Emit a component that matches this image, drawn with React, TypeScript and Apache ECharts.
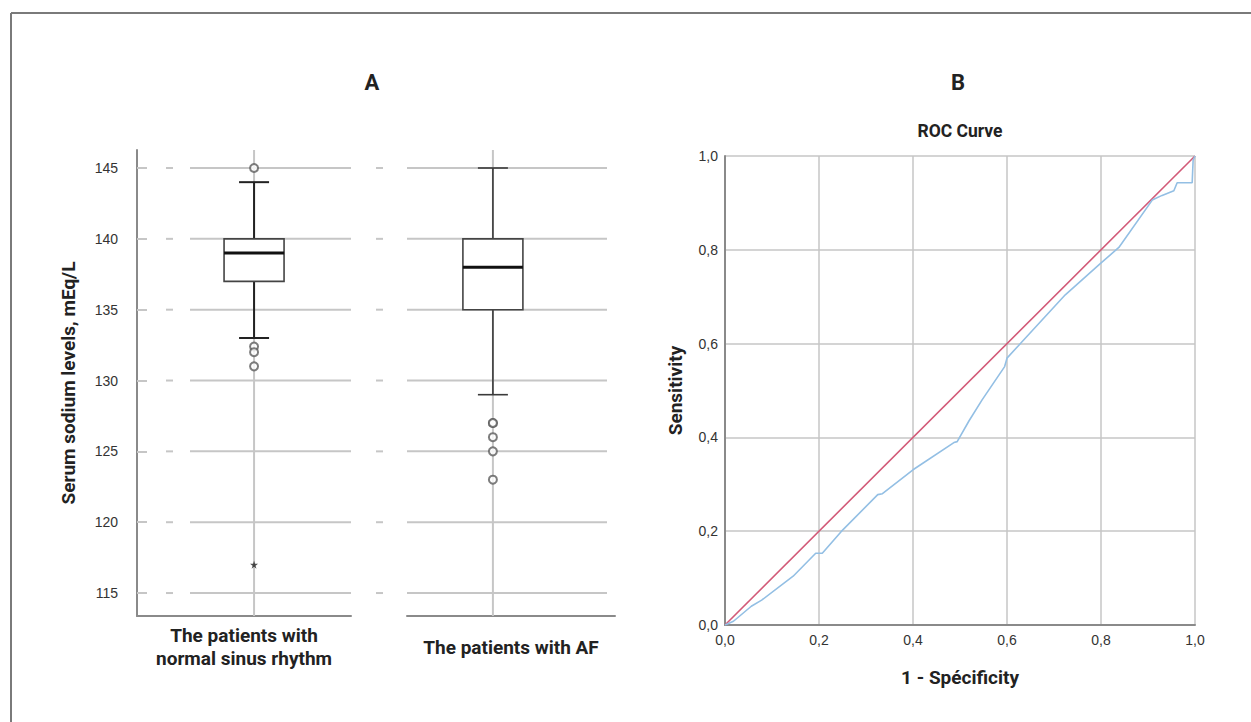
import { useEffect, useRef } from "react";
import * as echarts from "echarts";

// ---------- data ----------
const groupNames = ["The patients with\nnormal sinus rhythm", "The patients with AF"];
// [min, Q1, median, Q3, max]
const boxNSR = [133, 137, 139, 140, 144];
const boxAF = [129, 135, 138, 140, 145];
const outliersNSR = [145, 132.4, 132, 131];
const extremesNSR = [117];
const outliersAF = [127, 127, 126, 125, 123];
const sodiumTicks = [115, 120, 125, 130, 135, 140, 145];

const rocFpr = [0, 0.018, 0.056, 0.078, 0.145, 0.193, 0.207, 0.247, 0.325, 0.335, 0.4, 0.487, 0.494, 0.519, 0.547, 0.595, 0.6, 0.632, 0.724, 0.799, 0.838, 0.909, 0.93, 0.955, 0.962, 0.994, 0.996, 1];
const rocTpr = [0, 0.008, 0.04, 0.053, 0.104, 0.153, 0.153, 0.199, 0.278, 0.28, 0.331, 0.389, 0.391, 0.435, 0.48, 0.551, 0.569, 0.604, 0.704, 0.771, 0.805, 0.906, 0.916, 0.926, 0.943, 0.943, 0.991, 1];
const refLine = [[0, 0], [1, 1]];

// ---------- styles ----------
const NARROW = '"Liberation Sans Narrow", "Roboto", sans-serif';
const REG = '"Liberation Sans", Arial, sans-serif';
const GRID_C = "#c6c6c6";
const AXIS_C = "#8a8a8a";
const STAR = "path://M50,0 L61,35 L98,35 L68,57 L79,91 L50,70 L21,91 L32,57 L2,35 L39,35 Z";

const Y_MIN = 113.38;
const Y_MAX = 146.27;

function gridRenderer(dash: [number, number], main: [number, number]) {
  return (params: any, api: any) => {
    const cs = params.coordSys;
    const y = api.coord([1, api.value(1)])[1];
    const st = { stroke: GRID_C, lineWidth: 2 };
    return {
      type: "group",
      children: [
        { type: "line", shape: { x1: cs.x + dash[0], y1: y, x2: cs.x + dash[1], y2: y }, style: st },
        { type: "line", shape: { x1: cs.x + main[0], y1: y, x2: cs.x + cs.width + main[1], y2: y }, style: st },
      ],
    };
  };
}

function vlineRenderer(params: any, api: any) {
  const cs = params.coordSys;
  const x = api.coord([api.value(0), api.value(1)])[0];
  return {
    type: "line",
    shape: { x1: x, y1: cs.y, x2: x, y2: cs.y + cs.height },
    style: { stroke: GRID_C, lineWidth: 2 },
  };
}

function boxRenderer(whiskerColor: string, whiskerWidth: number) {
  return (params: any, api: any) => {
    const xv = api.value(0);
    const pMin = api.coord([xv, api.value(1)]);
    const pQ1 = api.coord([xv, api.value(2)]);
    const pMed = api.coord([xv, api.value(3)]);
    const pQ3 = api.coord([xv, api.value(4)]);
    const pMax = api.coord([xv, api.value(5)]);
    const cx = pMed[0];
    const hw = 30;
    const cap = 15;
    const ws = { stroke: whiskerColor, lineWidth: whiskerWidth };
    return {
      type: "group",
      children: [
        { type: "line", shape: { x1: cx, y1: pQ3[1], x2: cx, y2: pMax[1] }, style: ws },
        { type: "line", shape: { x1: cx, y1: pQ1[1], x2: cx, y2: pMin[1] }, style: ws },
        { type: "line", shape: { x1: cx - cap, y1: pMax[1], x2: cx + cap, y2: pMax[1] }, style: ws },
        { type: "line", shape: { x1: cx - cap, y1: pMin[1], x2: cx + cap, y2: pMin[1] }, style: ws },
        {
          type: "rect",
          shape: { x: cx - hw, y: pQ3[1], width: hw * 2, height: pQ1[1] - pQ3[1] },
          style: { fill: "#fff", stroke: "#444", lineWidth: 1.6 },
        },
        { type: "line", shape: { x1: cx - hw, y1: pMed[1], x2: cx + hw, y2: pMed[1] }, style: { stroke: "#111", lineWidth: 3 } },
      ],
    };
  };
}

const commaFmt = (v: number) => v.toFixed(1).replace(".", ",");

export default function App() {
  const ref = useRef<HTMLDivElement>(null);
  useEffect(() => {
    if (!ref.current) return;
    const chart = echarts.init(ref.current, null, { renderer: "svg" });
    const nameStyle = { fontFamily: NARROW, fontWeight: "bold" as const, fontSize: 19, color: "#222" };
    const tickStyle = { fontFamily: REG, fontSize: 14, color: "#333" };
    const option: any = {
      animation: false,
      backgroundColor: "#fff",
      grid: [
        { left: 137, top: 150, width: 214, height: 466 },
        { left: 407, top: 150, width: 208, height: 466 },
        { left: 725, top: 156, width: 470, height: 469 },
      ],
      xAxis: [
        {
          type: "value", gridIndex: 0, min: 0.453, max: 1.453,
          axisLine: { show: true, lineStyle: { color: AXIS_C, width: 2 } },
          axisTick: { show: false }, axisLabel: { show: false }, splitLine: { show: false },
          name: groupNames[0], nameLocation: "middle", nameGap: 8,
          nameTextStyle: { ...nameStyle, lineHeight: 23 },
        },
        {
          type: "value", gridIndex: 1, min: 0.587, max: 1.587,
          axisLine: { show: true, lineStyle: { color: AXIS_C, width: 2 } },
          axisTick: { show: false }, axisLabel: { show: false }, splitLine: { show: false },
          name: groupNames[1], nameLocation: "middle", nameGap: 20,
          nameTextStyle: { ...nameStyle, lineHeight: 23 },
        },
        {
          type: "value", gridIndex: 2, min: 0, max: 1, interval: 0.2,
          axisLine: { show: true, lineStyle: { color: AXIS_C, width: 2 } },
          axisTick: { show: false },
          axisLabel: { formatter: commaFmt, ...tickStyle, margin: 8 },
          splitLine: { show: true, lineStyle: { color: GRID_C, width: 1.5 } },
          name: "1 - Spécificity", nameLocation: "middle", nameGap: 43, nameTextStyle: nameStyle,
        },
      ],
      yAxis: [
        {
          type: "value", gridIndex: 0, min: Y_MIN, max: Y_MAX,
          axisLine: { show: true, lineStyle: { color: AXIS_C, width: 2 } },
          axisTick: { show: true, inside: true, length: 10, customValues: sodiumTicks, lineStyle: { color: GRID_C, width: 2 } },
          axisLabel: { customValues: sodiumTicks, ...tickStyle, margin: 19 },
          splitLine: { show: false },
          name: "Serum sodium levels, mEq/L", nameLocation: "middle", nameGap: 59, nameTextStyle: nameStyle,
        },
        {
          type: "value", gridIndex: 1, min: Y_MIN, max: Y_MAX, show: false,
          axisLine: { show: false }, axisTick: { show: false }, axisLabel: { show: false }, splitLine: { show: false },
        },
        {
          type: "value", gridIndex: 2, min: 0, max: 1, interval: 0.2,
          axisLine: { show: true, lineStyle: { color: AXIS_C, width: 2 } },
          axisTick: { show: false },
          axisLabel: { formatter: commaFmt, ...tickStyle, margin: 7 },
          splitLine: { show: true, lineStyle: { color: GRID_C, width: 1.5 } },
          name: "Sensitivity", nameLocation: "middle", nameGap: 40, nameTextStyle: nameStyle,
        },
      ],
      graphic: [
        { type: "line", shape: { x1: 11, y1: 13, x2: 1251, y2: 13 }, style: { stroke: "#7a7a7a", lineWidth: 2 } },
        { type: "line", shape: { x1: 11, y1: 13, x2: 11, y2: 722 }, style: { stroke: "#7a7a7a", lineWidth: 2 } },
        { type: "text", x: 372, y: 82, style: { text: "A", font: `bold 22px ${NARROW}`, fill: "#222", align: "center", verticalAlign: "middle" } },
        { type: "text", x: 958, y: 82, style: { text: "B", font: `bold 22px ${NARROW}`, fill: "#222", align: "center", verticalAlign: "middle" } },
        { type: "text", x: 960, y: 131, style: { text: "ROC Curve", font: `bold 17.5px ${NARROW}`, fill: "#222", align: "center", verticalAlign: "middle" } },
      ],
      series: [
        { type: "custom", xAxisIndex: 0, yAxisIndex: 0, z: 1, data: sodiumTicks.map((v) => [1, v]), renderItem: gridRenderer([29, 36], [53, 0]), silent: true },
        { type: "custom", xAxisIndex: 1, yAxisIndex: 1, z: 1, data: sodiumTicks.map((v) => [1, v]), renderItem: gridRenderer([-31, -24], [0, -8]), silent: true },
        { type: "custom", xAxisIndex: 0, yAxisIndex: 0, z: 1, data: [[1, 130]], renderItem: vlineRenderer, silent: true },
        { type: "custom", xAxisIndex: 1, yAxisIndex: 1, z: 1, data: [[1, 130]], renderItem: vlineRenderer, silent: true },
        { type: "custom", xAxisIndex: 0, yAxisIndex: 0, z: 3, data: [[1, ...boxNSR]], encode: { x: 0, y: [1, 2, 3, 4, 5] }, renderItem: boxRenderer("#222", 2) },
        { type: "custom", xAxisIndex: 1, yAxisIndex: 1, z: 3, data: [[1, ...boxAF]], encode: { x: 0, y: [1, 2, 3, 4, 5] }, renderItem: boxRenderer("#3a3a3a", 1.6) },
        { type: "scatter", xAxisIndex: 0, yAxisIndex: 0, z: 4, data: outliersNSR.map((v) => [1, v]), symbol: "emptyCircle", symbolSize: 8, itemStyle: { color: "#5c5c5c", borderWidth: 1.7 } },
        { type: "scatter", xAxisIndex: 0, yAxisIndex: 0, z: 4, data: extremesNSR.map((v) => [1, v]), symbol: STAR, symbolSize: 8, itemStyle: { color: "#222" } },
        { type: "scatter", xAxisIndex: 1, yAxisIndex: 1, z: 4, data: outliersAF.map((v) => [1, v]), symbol: "emptyCircle", symbolSize: 8, itemStyle: { color: "#5c5c5c", borderWidth: 1.7 } },
        { type: "line", xAxisIndex: 2, yAxisIndex: 2, z: 3, data: refLine, symbol: "none", lineStyle: { color: "#d25a78", width: 1.6 } },
        { type: "line", xAxisIndex: 2, yAxisIndex: 2, z: 4, data: rocFpr.map((x, i) => [x, rocTpr[i]]), symbol: "none", lineStyle: { color: "#93bfe4", width: 1.6 } },
      ],
    };
    chart.setOption(option);
    return () => chart.dispose();
  }, []);
  return <div ref={ref} style={{ position: "fixed", left: 0, top: 0, width: 1251, height: 722 }} />;
}
